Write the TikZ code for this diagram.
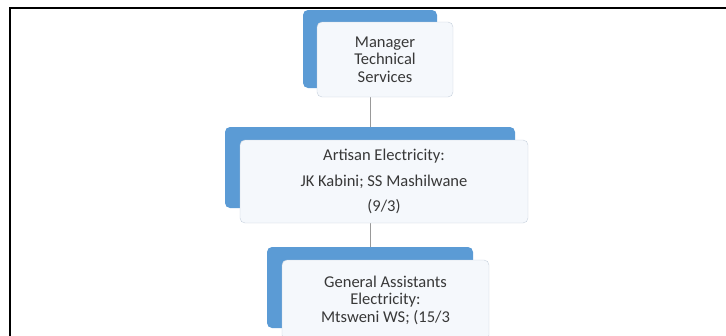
\documentclass[tikz,border=0pt]{standalone}
\usepackage{fontspec}
\setmainfont{Carlito}
\usetikzlibrary{positioning}
\definecolor{backblue}{HTML}{5B9BD5}
\definecolor{frontfill}{HTML}{F5F8FC}
\definecolor{frontline}{HTML}{C5D0DC}
\definecolor{txtgray}{HTML}{383838}
\begin{document}
\begin{tikzpicture}
	[x=1pt,y=-1pt,
	back/.style={shape=rectangle,draw=none,fill=backblue,rounded corners=5pt,inner sep=0pt},
	front/.style={shape=rectangle,draw=frontline,fill=frontfill,rounded corners=5pt,inner sep=0pt,
	text=txtgray,align=center,font=\fontsize{16.5}{17.5}\selectfont},
	link/.style={draw=gray!80,line width=0.8pt}]
	\clip (0,0) rectangle (726,335);
	\draw[line width=2.8pt] (10,336) -- (10,8) -- (727,8);

	\node[back,minimum width=134pt,minimum height=78pt] (mgrback) at (370,49) {};
	\node[back,minimum width=290pt,minimum height=81pt] (artback) at (370,167.5) {};
	\node[back,minimum width=206pt,minimum height=81pt] (genback) at (370,287.5) {};

	\path
	\foreach \startNode/\endNode in {mgrback/artback,artback/genback}{
		(\startNode) edge[link] (\endNode)
	};

	\node[front,minimum width=136pt,minimum height=75pt] (mgr) at (385,59.5)
		{Manager\\Technical\\Services};
	\node[front,minimum width=288pt,minimum height=83pt,font=\fontsize{16.5}{25.5}\selectfont] (art) at (384,181.5)
		{Artisan Electricity:\\JK Kabini; SS Mashilwane\\(9/3)};
	\node[front,minimum width=207pt,minimum height=80pt] (gen) at (385.5,300)
		{General Assistants\\Electricity:\\Mtsweni WS; (15/3};
\end{tikzpicture}
\end{document}
